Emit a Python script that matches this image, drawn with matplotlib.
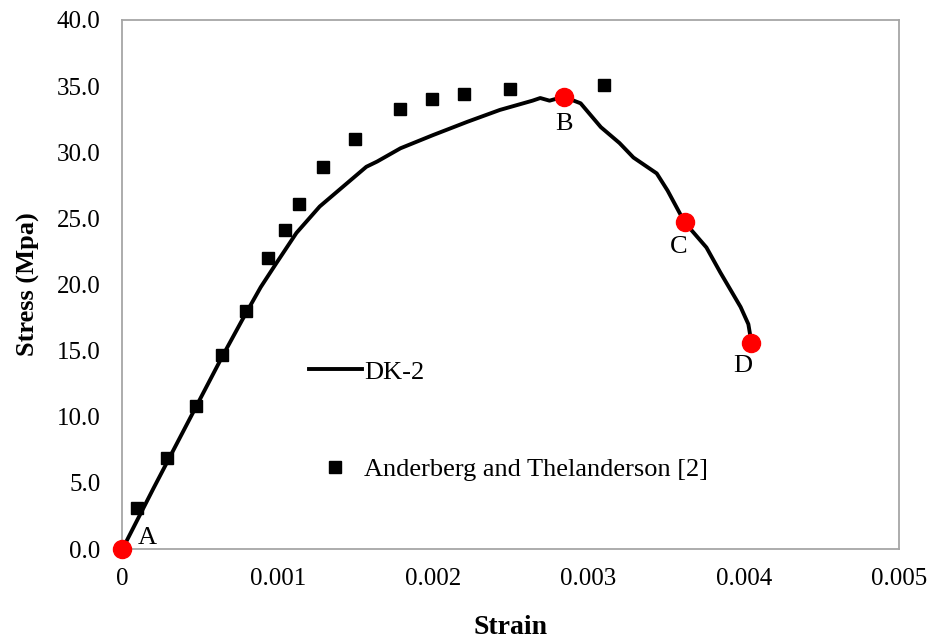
import matplotlib.pyplot as plt
import numpy as np

plt.rcParams['font.family'] = ['Liberation Serif', 'DejaVu Serif']
plt.rcParams['font.size'] = 18

# DK-2 stress-strain curve
dk_strain = [0.0, 0.00010, 0.00020, 0.00040, 0.00064, 0.00077, 0.00089, 0.00099,
             0.00112, 0.00127, 0.00142, 0.00157, 0.00164, 0.00179, 0.00200, 0.00222,
             0.00243, 0.00264, 0.00269, 0.00275, 0.00284, 0.00295, 0.00308, 0.00320,
             0.00329, 0.00344, 0.00351, 0.00362, 0.00376, 0.00385, 0.00398, 0.00403,
             0.00405]
dk_stress = [0.0, 2.3, 4.6, 9.1, 14.5, 17.3, 19.8, 21.6,
             23.9, 25.9, 27.4, 28.9, 29.3, 30.3, 31.3, 32.3,
             33.2, 33.9, 34.1, 33.9, 34.2, 33.7, 31.9, 30.7,
             29.6, 28.4, 27.1, 24.7, 22.8, 20.9, 18.3, 17.0,
             15.6]

# Anderberg and Thelanderson [2] test data
exp_strain = [0.000093, 0.000287, 0.000473, 0.000641, 0.000795, 0.000937, 0.001046, 0.001137,
              0.001291, 0.001497, 0.001787, 0.001993, 0.002199, 0.002495, 0.003100]
exp_stress = [3.1, 6.9, 10.8, 14.7, 18.0, 22.0, 24.1, 26.1,
              28.9, 31.0, 33.3, 34.0, 34.4, 34.8, 35.1]

# key points
pt_labels = ['A', 'B', 'C', 'D']
pt_strain = [0.0, 0.00284, 0.00362, 0.00405]
pt_stress = [0.0, 34.2, 24.7, 15.6]
pt_offsets = [(18, 8), (0, -20), (-4, -18), (-6.5, -17)]

fig = plt.figure(figsize=(9.37, 6.44), dpi=100)
ax = fig.add_axes([122.5 / 937, 1 - 549 / 644, (899 - 122.5) / 937, (549 - 20) / 644])

ax.plot(exp_strain, exp_stress, 's', color='black', markersize=8, label='Anderberg and Thelanderson [2]')
ax.plot(dk_strain, dk_stress, '-', color='black', linewidth=2.8, label='DK-2')
ax.plot(pt_strain, pt_stress, 'o', color='#ff0000', markersize=13, clip_on=False, zorder=5)
for lab, x, y, off in zip(pt_labels, pt_strain, pt_stress, pt_offsets):
    ax.annotate(lab, (x, y), xytext=off, textcoords='offset points',
                ha='center', va='center', fontsize=19)

ax.set_xlim(0, 0.005)
ax.set_ylim(0, 40)
ax.set_xticks([0, 0.001, 0.002, 0.003, 0.004, 0.005])
ax.set_xticklabels(['0', '0.001', '0.002', '0.003', '0.004', '0.005'])
ax.set_yticks(np.arange(0, 41, 5))
ax.set_yticklabels([f'{v:.1f}' for v in np.arange(0, 41, 5)])
ax.tick_params(axis='x', length=0, pad=14, labelsize=18)
ax.tick_params(axis='y', length=0, pad=16, labelsize=18)
for s in ax.spines.values():
    s.set_color('#a6a6a6')
    s.set_linewidth(1.3)

ax.set_xlabel('Strain', fontweight='bold', fontsize=20, labelpad=18)
ax.set_ylabel('Stress (Mpa)', fontweight='bold', fontsize=19, labelpad=12)

handles, labels = ax.get_legend_handles_labels()
ax.legend(handles[::-1], labels[::-1], loc='upper left', bbox_to_anchor=(0.2265, 0.377),
          frameon=False, labelspacing=2.8, handlelength=2.0, handletextpad=0.1,
          borderaxespad=0, fontsize=19)

fig.savefig('out.png', dpi=100)
